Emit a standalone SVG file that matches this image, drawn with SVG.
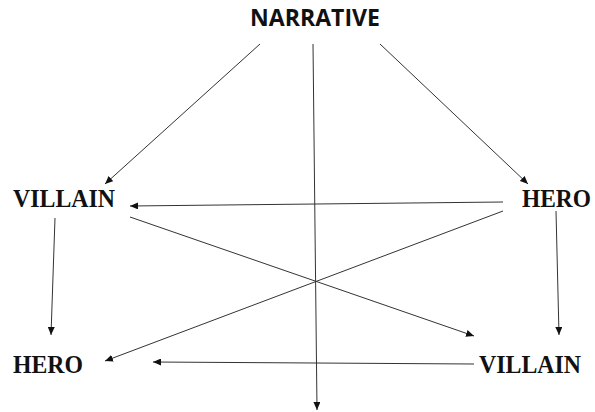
<svg xmlns="http://www.w3.org/2000/svg" width="595" height="412" viewBox="0 0 595 412">
<style>
.s{font-family:"Open Sans","Liberation Sans",sans-serif;font-weight:bold;font-size:23px;fill:#111}
.t{font-family:"Liberation Serif","DejaVu Serif",serif;font-weight:bold;font-size:26px;fill:#111}
.c line{stroke:#333;stroke-width:1;marker-end:url(#a)}
</style>
<defs>
<marker id="a" markerUnits="userSpaceOnUse" markerWidth="9" markerHeight="7" refX="8" refY="3.5" orient="auto">
<path d="M0,0 L8,3.5 L0,7 z" fill="#111"/>
</marker>
</defs>
<rect width="595" height="412" fill="#fff"/>
<g id="narrative"><text class="s" x="250" y="26" textLength="130" lengthAdjust="spacingAndGlyphs">NARRATIVE</text></g>
<g id="villain-top"><text class="t" x="13" y="207" textLength="102" lengthAdjust="spacingAndGlyphs">VILLAIN</text></g>
<g id="hero-top"><text class="t" x="522" y="207" style="font-size:24.5px" textLength="69" lengthAdjust="spacingAndGlyphs">HERO</text></g>
<g id="hero-bottom"><text class="t" x="13" y="373" textLength="70" lengthAdjust="spacingAndGlyphs">HERO</text></g>
<g id="villain-bottom"><text class="t" x="479" y="373" textLength="102" lengthAdjust="spacingAndGlyphs">VILLAIN</text></g>
<g id="connectors" class="c">
<line x1="260" y1="44" x2="105" y2="184"/>
<line x1="313" y1="44" x2="317" y2="410"/>
<line x1="380" y1="44" x2="528" y2="184"/>
<line x1="503" y1="202" x2="130" y2="206"/>
<line x1="503" y1="211" x2="105" y2="361"/>
<line x1="130" y1="217" x2="474" y2="336"/>
<line x1="55" y1="218" x2="51" y2="335"/>
<line x1="556" y1="211" x2="559" y2="335"/>
<line x1="474" y1="364" x2="153" y2="362"/>
</g>
</svg>
